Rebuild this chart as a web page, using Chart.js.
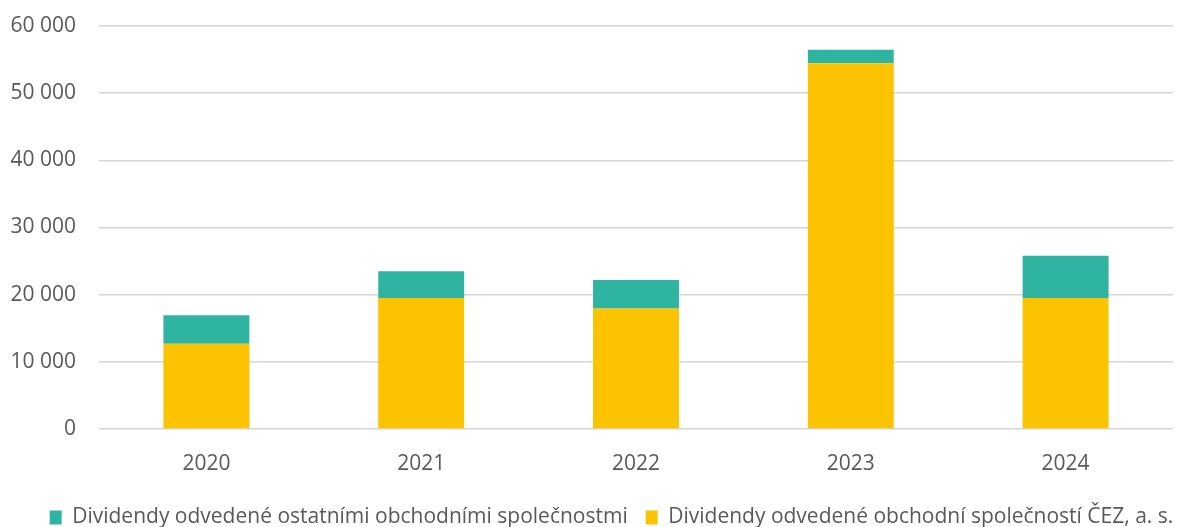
<!DOCTYPE html>
<html>
<head>
<meta charset="utf-8">
<script src="https://cdn.jsdelivr.net/npm/chart.js@4/dist/chart.umd.min.js"></script>
<style>
  html, body { margin: 0; padding: 0; background: #fff; }
  #wrap { width: 1180px; height: 527px; }
</style>
</head>
<body>
<div id="wrap"><canvas id="bar-chart"></canvas></div>
<script>
var years = ["2020", "2021", "2022", "2023", "2024"];
var cezValues = [12700, 19500, 17950, 54450, 19500];
var otherValues = [4250, 4000, 4250, 2000, 6300];
var yTicks = [0, 10000, 20000, 30000, 40000, 50000, 60000];

var labelCez = "Dividendy odvedené obchodní společností ČEZ, a. s.";
var labelOther = "Dividendy odvedené ostatními obchodními společnostmi";

function fmt(v) {
    return String(v).replace(/\B(?=(\d{3})+(?!\d))/g, " ");
}

var barChartData = {
    labels: years,
    datasets: [
        {
            label: labelCez,
            backgroundColor: "#FCC300",
            data: cezValues
        },
        {
            label: labelOther,
            backgroundColor: "#2EB4A0",
            data: otherValues
        }
    ]
};

// legend sits a bit right of centre in the original
var legendShift = {
    id: 'legendShift',
    afterLayout: function (chart) {
        chart.legend.left += 20;
        chart.legend.right += 20;
    }
};

new Chart(document.getElementById("bar-chart"), {
    type: 'bar',
    data: barChartData,
    plugins: [legendShift],
    options: {
        responsive: true,
        maintainAspectRatio: false,
        animation: false,
        layout: { padding: { top: 26, right: 7, left: 10, bottom: -11 } },
        datasets: {
            bar: { barPercentage: 0.4, categoryPercentage: 1 }
        },
        scales: {
            x: {
                stacked: true,
                grid: { display: false },
                border: { display: false },
                afterFit: function (scale) { scale.height = 60; },
                ticks: {
                    color: "#595959",
                    padding: 14,
                    font: { family: "Open Sans", size: 21 }
                }
            },
            y: {
                stacked: true,
                min: 0,
                max: 60000,
                afterBuildTicks: function (axis) {
                    axis.ticks = yTicks.map(function (v) { return { value: v }; });
                },
                afterFit: function (scale) { scale.width = 89; },
                grid: { color: "#d6d6d6", lineWidth: 1.5, drawTicks: false },
                border: { display: false },
                ticks: {
                    color: "#595959",
                    padding: 23,
                    font: { family: "Open Sans", size: 21, lineHeight: 0.2 },
                    callback: function (v) { return fmt(v); }
                }
            }
        },
        plugins: {
            tooltip: { enabled: false },
            legend: {
                position: 'bottom',
                reverse: true,
                labels: {
                    color: "#595959",
                    boxWidth: 12,
                    boxHeight: 14,
                    padding: 18,
                    font: { family: "Open Sans", size: 21 }
                }
            }
        }
    }
});
</script>
</body>
</html>
